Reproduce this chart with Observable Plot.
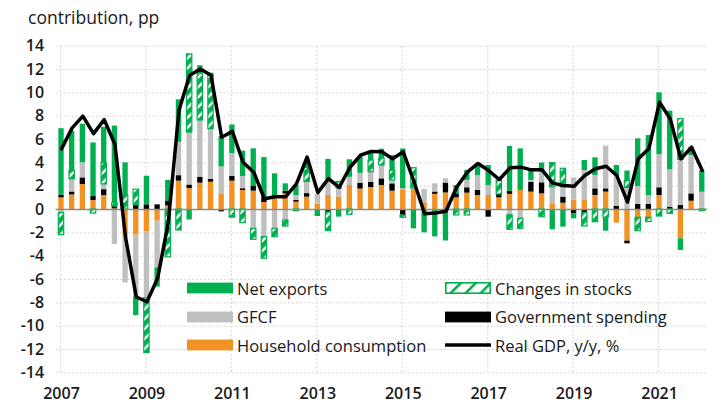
<!DOCTYPE html>
<html>
<head>
<meta charset="utf-8">
<script src="https://cdn.jsdelivr.net/npm/d3@7"></script>
<script src="https://cdn.jsdelivr.net/npm/@observablehq/plot@0.6"></script>
<style>
  html, body { margin: 0; padding: 0; background: #fff; }
  #wrap { position: relative; width: 722px; height: 403px; font-family: "Open Sans", sans-serif; color: #1a1a1a; overflow: hidden; }
  #chart { position: absolute; left: 0; top: 0; }
  #title { position: absolute; left: 28px; top: 7px; font-size: 17.5px; line-height: 20px; white-space: nowrap; }
  .leg { position: absolute; height: 20px; display: flex; align-items: center; font-size: 16.5px; white-space: nowrap; }
  .leg svg { margin-right: 4px; flex: none; }
</style>
</head>
<body>
<div id="wrap">
  <div id="chart"></div>
  <div id="title">contribution, pp</div>
  <div id="legend"></div>
</div>
<script>
// ---- data (quarterly, 2007Q1 - 2022Q1) ----
const quarters = d3.range(61).map(i => `${2007 + Math.floor(i / 4)}Q${(i % 4) + 1}`);
const yearTicks = ["2007", "2009", "2011", "2013", "2015", "2017", "2019", "2021"];
const yTicks = d3.range(-14, 15, 2);

const household = [
  1.0, 1.25, 2.14, 0.77, 1.2, 0.05, -2.2, -2.2, -1.9, -1.0,
  0.3, 2.43, 1.8, 2.26, 2.34, 1.35, 2.43, 1.63, 1.57, 0.6,
  1.06, 1.34, 0.63, 1.06, 0.45, 1.2, 1.06, 2.06, 1.75, 1.88,
  2.06, 1.57, 1.69, 1.7, 0.58, 1.3, 1.42, 1.0, 1.4, 1.2,
  1.2, 1.0, 1.3, 1.63, 1.49, 1.34, 0.49, 0.54, 0.8, 0.77,
  1.2, 1.49, -1.17, -2.71, -0.71, -0.71, 1.2, 0.0, -2.51, 0.71,
  0.1
];
const government = [
  0.23, 0.25, 0.57, 0.34, 0.5, 0.2, 0, 0.35, 0.4, 0.4,
  0.43, 0.47, 0.3, 0.51, 0.25, -0.2, 0.4, 0.15, 0.4, 0.45,
  0, 0.23, 0.14, 0.3, 0, -0.25, 0, 0, 0.5, 0.46,
  0.57, 0.63, -0.51, 0, 0, 0.2, 0.85, 0.34, 0.46, 0.43,
  -0.66, 0.29, 0.25, 0, 0.85, 0.95, 0, 0.52, -0.37, -0.29,
  0.57, 0.28, 0.26, -0.23, 0.43, 0.43, 0.66, 0.2, 0.34, 0.63,
  0
];
const gfcf = [
  -0.3, 1.1, 1.3, 0, 0.45, -3.0, -4.1, -5.3, -5.7, -4.0,
  0, 2.87, 4.5, 4.86, 4.3, 2.3, 1.97, 1.05, -1.66, -2.37,
  -1.66, -0.94, 0.43, 1.0, 0.83, 1.4, 0.75, 0.7, 0.85, 0.86,
  1.14, 0.29, 0.1, 0.1, 1.13, 0.7, 0.36, 0, 0.63, 1.28,
  0.86, 0, -0.5, -0.8, 0.15, 0.9, 1.42, 0.85, 1.9, 2.57,
  1.14, 3.66, 2.65, 1.85, 1.54, 0.77, 2.85, 3.2, 3.91, 3.29,
  1.38
];
const stocks = [
  -1.9, 0.7, 0, -0.35, 1.8, 0.3, 1.2, 1.35, -4.7, 0,
  -4.1, -1.8, 6.7, 4.0, 4.7, 0, -0.7, -1.17, -0.94, -1.85,
  -0.71, -0.52, -0.15, 1.2, 0, -1.6, 0.55, -0.45, 0, 1.0,
  0.6, 0.8, -0.2, 1.74, 0, 0, 0, -0.51, -0.51, 0,
  0, 1.2, -1.24, -0.86, 0, -0.66, 2.06, 1.58, 0, -1.17,
  -1.09, -0.7, 0, 0.6, -1.15, -0.37, -0.6, -0.37, 3.5, 0,
  -0.15
];
const netExports = [
  5.7, 3.4, 3.3, 4.6, 3.1, 6.6, 2.8, -1.6, 2.45, -1.65,
  1.77, 3.63, -0.9, 0.7, 0.1, 2.6, 2.45, 2.17, 3.23, 3.4,
  2.0, 0.63, 0.86, 0.64, -0.6, 1.7, -0.65, 1.5, 1.35, 0.7,
  0.8, 1.34, 3.4, -1.66, -2.0, -2.35, -2.7, 0.72, 0.85, 1.0,
  1.71, 0, 3.85, 3.57, 0.8, 0.8, -1.74, -1.51, -0.43, 0.86,
  1.52, -1.16, 0.86, 0.85, 4.09, 5.14, 5.29, 5.03, -1.0, 0.71,
  1.85
];
const realGDP = [
  5.2, 7.0, 8.0, 6.5, 7.7, 5.6, -2.4, -7.5, -7.9, -5.9,
  -1.1, 8.5, 11.5, 12.05, 11.5, 6.2, 6.7, 4.05, 3.2, 0.92,
  1.1, 1.1, 2.2, 4.5, 1.45, 2.65, 1.9, 3.6, 4.65, 4.98,
  4.95, 4.34, 4.95, 2.4, -0.37, -0.3, -0.15, 1.9, 3.2, 3.95,
  3.34, 2.57, 3.57, 3.63, 3.4, 3.4, 2.26, 2.06, 2.0, 2.91,
  3.49, 3.71, 2.91, 0.63, 4.34, 5.2, 9.2, 7.77, 4.34, 5.34,
  3.34
];

const seriesNames = ["Household consumption", "Government spending", "GFCF", "Changes in stocks", "Net exports"];
const seriesColors = ["#f39224", "#000000", "#bfbfbf", "url(#hatch)", "#00b050"];
const seriesValues = [household, government, gfcf, stocks, netExports];

// ---- tables built from the arrays ----
const rows = quarters.flatMap((q, i) =>
  seriesNames.map((s, k) => ({ q, series: s, value: seriesValues[k][i] }))
);
const nonZero = rows.filter(d => d.value !== 0);
const gdpRows = quarters.map((q, i) => ({ q, value: realGDP[i] }));
const tickKeys = yearTicks.map(y => y + "Q1");

const stackOpts = { x: "q", y: "value", z: "series", order: seriesNames };

const chart = Plot.plot({
  width: 722,
  height: 403,
  marginLeft: 55.66,
  marginRight: 14.9,
  marginTop: 45.7,
  marginBottom: 30.7,
  style: { fontFamily: "'Open Sans', sans-serif", fontSize: "16px", fontWeight: 600, color: "#1a1a1a", background: "transparent", overflow: "visible" },
  x: { type: "band", domain: quarters, paddingInner: 0.5, paddingOuter: 0.25, ticks: tickKeys, tickFormat: d => d.slice(0, 4), tickSize: 0, tickPadding: 14.5, label: null },
  y: { domain: [-14, 14], ticks: yTicks, tickFormat: d => String(d), tickSize: 0, tickPadding: 12, label: null },
  color: { type: "ordinal", domain: seriesNames, range: seriesColors },
  opacity: { type: "identity" },
  marks: [
    Plot.ruleY(yTicks.filter(d => d !== 0), { stroke: "#d4d4d4", strokeDasharray: "2,2", strokeWidth: 1 }),
    Plot.ruleX(tickKeys, { stroke: "#d4d4d4", strokeDasharray: "2,2", strokeWidth: 1, dx: -1 }),
    Plot.barY(nonZero, Plot.stackY({ ...stackOpts, fill: "series" })),
    Plot.barY(nonZero, Plot.stackY({ ...stackOpts, fill: "none", stroke: "#00b050", strokeWidth: 1.2,
      strokeOpacity: d => (d.series === "Changes in stocks" ? 1 : 0) })),
    Plot.ruleY([0], { stroke: "#8a8a8a", strokeWidth: 1.5 }),
    Plot.line(gdpRows, { x: "q", y: "value", stroke: "#000", strokeWidth: 3.5, strokeLinejoin: "round", strokeLinecap: "round" })
  ]
});

const NS = "http://www.w3.org/2000/svg";
const defs = document.createElementNS(NS, "defs");
defs.innerHTML =
  '<pattern id="hatch" patternUnits="userSpaceOnUse" width="7" height="7" patternTransform="rotate(45)">' +
  '<rect width="7" height="7" fill="#ffffff"/><rect width="4.6" height="7" fill="#00b050"/></pattern>' +
  '<pattern id="hatchLeg" patternUnits="userSpaceOnUse" width="10.6" height="10.6" patternTransform="rotate(45)">' +
  '<rect width="10.6" height="10.6" fill="#ffffff"/><rect width="2.6" height="10.6" fill="#00b050"/></pattern>';
chart.insertBefore(defs, chart.firstChild);
document.getElementById("chart").appendChild(chart);

// ---- legend ----
const legendItems = [
  { label: "Net exports", kind: "rect", color: "#00b050", left: 187, top: 278 },
  { label: "GFCF", kind: "rect", color: "#bfbfbf", left: 187, top: 306.5 },
  { label: "Household consumption", kind: "rect", color: "#f39224", left: 187, top: 335 },
  { label: "Changes in stocks", kind: "hatch", color: "url(#hatchLeg)", left: 445, top: 278 },
  { label: "Government spending", kind: "rect", color: "#000000", left: 445, top: 306.5 },
  { label: "Real GDP, y/y, %", kind: "line", color: "#000000", left: 445, top: 335 }
];
const legend = document.getElementById("legend");
for (const it of legendItems) {
  const div = document.createElement("div");
  div.className = "leg";
  div.style.left = it.left + "px";
  div.style.top = it.top + "px";
  let sw;
  if (it.kind === "line") {
    sw = `<svg width="46" height="12"><line x1="1" x2="45" y1="6" y2="6" stroke="#000" stroke-width="3.5" stroke-linecap="round"/></svg>`;
  } else if (it.kind === "hatch") {
    sw = `<svg width="46" height="12"><rect x="0.8" y="0.8" width="44.4" height="10.4" fill="${it.color}" stroke="#00b050" stroke-width="1.6"/></svg>`;
  } else {
    sw = `<svg width="46" height="12"><rect x="0" y="0.6" width="46" height="10.8" fill="${it.color}"/></svg>`;
  }
  div.innerHTML = sw + `<span>${it.label}</span>`;
  legend.appendChild(div);
}
</script>
</body>
</html>
